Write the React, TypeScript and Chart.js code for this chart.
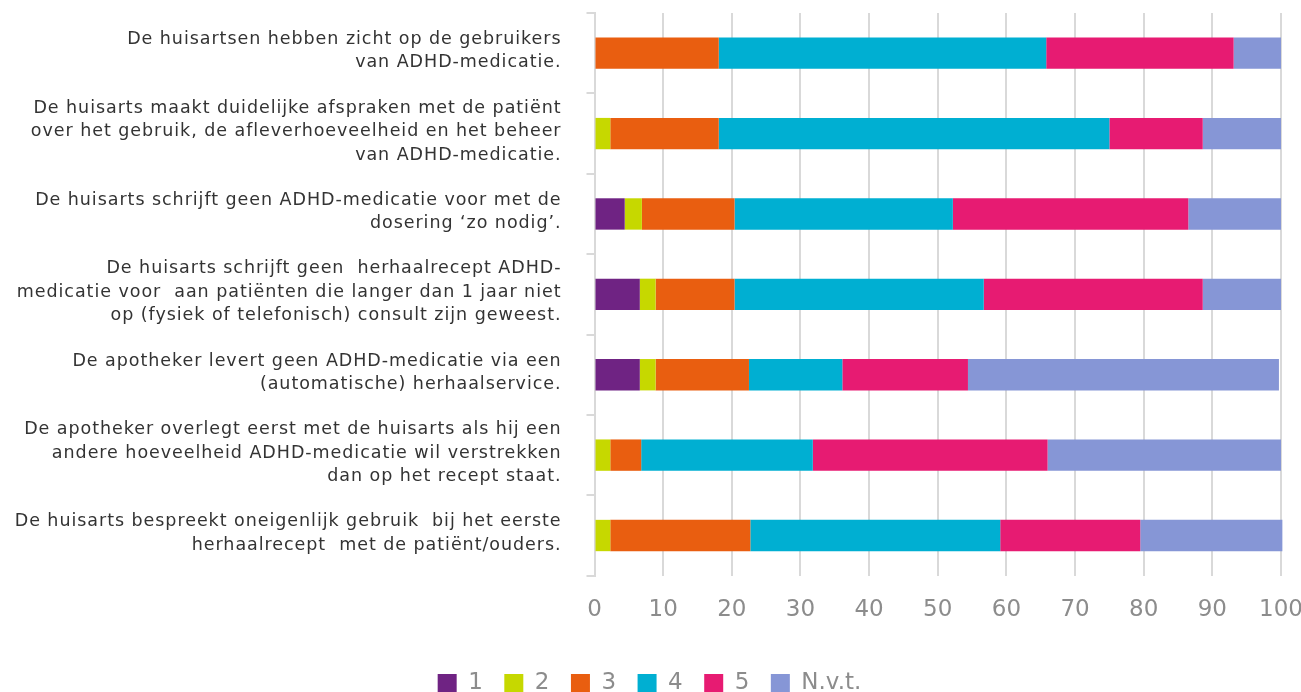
import React, { useEffect, useRef } from "react";
import { Chart, registerables } from "chart.js";

Chart.register(...registerables);

const categories: string[][] = [
  ["De huisartsen hebben zicht op de gebruikers", "van ADHD-medicatie."],
  [
    "De huisarts maakt duidelijke afspraken met de patiënt",
    "over het gebruik, de afleverhoeveelheid en het beheer",
    "van ADHD-medicatie.",
  ],
  ["De huisarts schrijft geen ADHD-medicatie voor met de", "dosering ‘zo nodig’."],
  [
    "De huisarts schrijft geen  herhaalrecept ADHD-",
    "medicatie voor  aan patiënten die langer dan 1 jaar niet",
    "op (fysiek of telefonisch) consult zijn geweest.",
  ],
  ["De apotheker levert geen ADHD-medicatie via een", "(automatische) herhaalservice."],
  [
    "De apotheker overlegt eerst met de huisarts als hij een",
    "andere hoeveelheid ADHD-medicatie wil verstrekken",
    "dan op het recept staat.",
  ],
  ["De huisarts bespreekt oneigenlijk gebruik  bij het eerste", "herhaalrecept  met de patiënt/ouders."],
];

const seriesNames = ["1", "2", "3", "4", "5", "N.v.t."];

const values1 = [0, 0, 4.4, 6.6, 6.6, 0, 0];
const values2 = [0, 2.3, 2.5, 2.3, 2.3, 2.3, 2.3];
const values3 = [18.1, 15.8, 13.5, 11.5, 13.6, 4.5, 20.4];
const values4 = [47.7, 56.9, 31.8, 36.3, 13.6, 25.0, 36.4];
const values5 = [27.3, 13.6, 34.3, 31.9, 18.3, 34.2, 20.4];
const valuesNvt = [6.9, 11.4, 13.5, 11.4, 45.3, 34.0, 20.7];

const xTickValues = [0, 10, 20, 30, 40, 50, 60, 70, 80, 90, 100];

const seriesColors = ["#6f2383", "#c6d800", "#e95e10", "#00afd2", "#e71b72", "#8696d6"];

const FONT = "'DejaVu Sans', sans-serif";
const GRID = "#d9d9d9";

const spacingPlugin = {
  id: "labelSpacing",
  afterLayout(chart: any) {
    const y = chart.scales.y;
    if (y && !y.__wrapped) {
      const orig = y.drawLabels.bind(y);
      y.drawLabels = (area: any) => {
        const ctx = chart.ctx as any;
        ctx.save();
        ctx.letterSpacing = "0.95px";
        ctx.translate(1, 0);
        orig(area);
        ctx.restore();
      };
      y.__wrapped = true;
    }
    if (chart.legend) {
      chart.legend.left += 9;
      chart.legend.right += 9;
    }
  },
};

export default function App() {
  const canvasRef = useRef<HTMLCanvasElement | null>(null);

  useEffect(() => {
    const canvas = canvasRef.current;
    if (!canvas) return;
    const allValues = [values1, values2, values3, values4, values5, valuesNvt];
    const chart = new Chart(canvas, {
      type: "bar",
      data: {
        labels: categories,
        datasets: seriesNames.map((name, i) => ({
          label: name,
          data: allValues[i],
          backgroundColor: seriesColors[i],
          borderWidth: 0,
          barPercentage: 0.39,
          categoryPercentage: 1,
          clip: false as any,
        })),
      },
      plugins: [spacingPlugin],
      options: {
        indexAxis: "y",
        responsive: false,
        animation: false,
        devicePixelRatio: 1,
        layout: { padding: { top: 13, right: 20, left: 0, bottom: 0 } },
        plugins: {
          tooltip: { enabled: false },
          legend: {
            position: "bottom",
            align: "center",
            labels: {
              boxWidth: 19,
              boxHeight: 19,
              padding: 21.5,
              color: "#8c8c8c",
              font: { family: FONT, size: 23 },
            },
          },
        },
        scales: {
          x: {
            stacked: true,
            min: 0,
            max: 100,
            afterBuildTicks: (scale: any) => {
              scale.ticks = xTickValues.map((v) => ({ value: v }));
            },
            afterFit: (scale: any) => {
              scale.height = 74.8;
              scale.paddingLeft = 0;
              scale.paddingRight = 0;
            },
            grid: { color: GRID, lineWidth: 2, drawTicks: false },
            border: { display: false },
            ticks: {
              padding: 21,
              color: "#8c8c8c",
              font: { family: FONT, size: 23 },
              maxRotation: 0,
            },
          },
          y: {
            stacked: true,
            afterFit: (scale: any) => {
              scale.width = 594.5;
              scale.paddingTop = 0;
              scale.paddingBottom = 0;
            },
            grid: {
              color: GRID,
              lineWidth: 2,
              drawOnChartArea: false,
              drawTicks: true,
              tickLength: 8,
              offset: true,
            },
            border: { display: true, color: GRID, width: 2 },
            ticks: {
              padding: 26,
              color: "#333333",
              labelOffset: -2,
              font: { family: FONT, size: 17.5, lineHeight: 1.343 },
            },
          },
        },
      },
    });
    return () => chart.destroy();
  }, []);

  return (
    <div
      style={{
        position: "absolute",
        left: 0,
        top: 0,
        width: 1301,
        height: 692,
        overflow: "hidden",
        background: "#ffffff",
      }}
    >
      <canvas ref={canvasRef} width={1301} height={705} style={{ display: "block" }} />
    </div>
  );
}
